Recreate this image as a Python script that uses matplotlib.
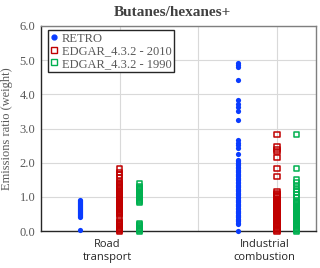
import matplotlib
matplotlib.use("Agg")
import matplotlib.pyplot as plt
from matplotlib.lines import Line2D

# ---- data ----
categories = ["Road\ntransport", "Industrial\ncombustion"]
series_names = ["RETRO", "EDGAR_4.3.2 - 2010", "EDGAR_4.3.2 - 1990"]

retro_road = [0.02, 0.40, 0.43, 0.46, 0.49, 0.52, 0.55, 0.58, 0.61, 0.64, 0.67,
              0.70, 0.73, 0.76, 0.79, 0.82, 0.85, 0.88, 0.91]
edgar2010_road = [0.00, 0.03, 0.06, 0.09, 0.12, 0.15, 0.18, 0.21, 0.24, 0.27,
                  0.38, 0.49, 0.52, 0.55, 0.58, 0.61, 0.64, 0.67, 0.70, 0.73,
                  0.76, 0.79, 0.82, 0.85, 0.88, 0.91, 0.94, 0.97, 1.00, 1.03,
                  1.06, 1.09, 1.16, 1.23, 1.26, 1.29, 1.32, 1.35, 1.38, 1.44,
                  1.55, 1.64, 1.72, 1.81]
edgar1990_road = [0.00, 0.03, 0.06, 0.09, 0.12, 0.15, 0.18, 0.22, 0.84, 0.87,
                  0.90, 0.93, 0.96, 0.99, 1.02, 1.05, 1.08, 1.11, 1.14, 1.17,
                  1.20, 1.23, 1.26, 1.29, 1.39]

retro_ind = [0.01, 0.20, 0.24, 0.28, 0.32, 0.36, 0.40, 0.44, 0.48, 0.52, 0.56,
             0.60, 0.64, 0.68, 0.72, 0.76, 0.80, 0.84, 0.88, 0.92, 0.96, 1.00,
             1.04, 1.08, 1.12, 1.16, 1.20, 1.24, 1.28, 1.32, 1.36, 1.40, 1.44,
             1.48, 1.52, 1.56, 1.60, 1.64, 1.68, 1.72, 1.76, 1.80, 1.84, 1.88,
             1.92, 1.96, 2.00, 2.04, 2.08, 2.25, 2.44, 2.51, 2.58, 2.66, 3.25,
             3.51, 3.62, 3.72, 3.82, 4.41, 4.79, 4.85, 4.93]
edgar2010_ind = [0.00, 0.03, 0.06, 0.09, 0.12, 0.15, 0.18, 0.21, 0.24, 0.27,
                 0.30, 0.33, 0.36, 0.39, 0.42, 0.45, 0.48, 0.51, 0.54, 0.57,
                 0.60, 0.63, 0.66, 0.69, 0.72, 0.75, 0.78, 0.81, 0.84, 0.87,
                 0.90, 0.93, 0.96, 0.99, 1.02, 1.05, 1.08, 1.16, 1.59, 1.83,
                 2.15, 2.32, 2.39, 2.46, 2.82]
edgar1990_ind = [0.00, 0.03, 0.06, 0.09, 0.12, 0.15, 0.18, 0.21, 0.24, 0.27,
                 0.30, 0.33, 0.36, 0.39, 0.42, 0.45, 0.48, 0.51, 0.54, 0.57,
                 0.60, 0.63, 0.66, 0.69, 0.72, 0.75, 0.78, 0.81, 0.84, 0.87,
                 0.98, 1.05, 1.14, 1.22, 1.30, 1.40, 1.49, 1.83, 2.82]

yticks = [0.0, 1.0, 2.0, 3.0, 4.0, 5.0, 6.0]
ytick_labels = ["0.0", "1.0", "2.0", "3.0", "4.0", "5.0", "6.0"]

# x positions (category slots)
pos_retro = [0.5, 2.5]
pos_2010 = [1.0, 3.0]
pos_1990 = [1.25, 3.25]
cat_label_x = [0.84, 2.84]

blue = "#0A3CFF"
red = "#C00000"
green = "#00B050"
grey_txt = "#595959"

fig = plt.figure(figsize=(3.2, 2.68), dpi=100)
ax = fig.add_axes([0.128, 0.138, 0.86, 0.765])

ax.grid(True, color="#D9D9D9", lw=0.8)
ax.set_axisbelow(True)

def col(xp, vals, **kw):
    ax.scatter([xp] * len(vals), vals, clip_on=False, zorder=3, **kw)

col(pos_retro[0], retro_road, s=14, color=blue, linewidths=0)
col(pos_retro[1], retro_ind, s=14, color=blue, linewidths=0)
for xp, vals in ((pos_2010[0], edgar2010_road), (pos_2010[1], edgar2010_ind)):
    col(xp, vals, s=15, marker="s", facecolors="none", edgecolors=red, linewidths=1.1)
for xp, vals in ((pos_1990[0], edgar1990_road), (pos_1990[1], edgar1990_ind)):
    col(xp, vals, s=15, marker="s", facecolors="none", edgecolors=green, linewidths=1.1)

ax.set_xlim(0, 3.5)
ax.set_ylim(0, 6.0)
ax.set_xticks([1, 2, 3])
ax.set_xticklabels([])
ax.tick_params(axis="x", length=0)
ax.set_yticks(yticks)
ax.set_yticklabels(ytick_labels, fontfamily="Liberation Serif", fontsize=9, color=grey_txt)
ax.tick_params(axis="y", length=0, pad=4)

for xp, lab in zip(cat_label_x, categories):
    ax.text(xp, -0.22, lab, ha="center", va="top", fontsize=8,
            fontfamily="Open Sans", color="#262626", linespacing=1.3,
            transform=ax.transData)

for s in ("top", "right"):
    ax.spines[s].set_color("#7F7F7F")
    ax.spines[s].set_linewidth(1.0)
for s in ("left", "bottom"):
    ax.spines[s].set_color("#262626")
    ax.spines[s].set_linewidth(1.0)

ax.set_ylabel("Emissions ratio (weight)", fontfamily="Liberation Serif",
              fontsize=9, color=grey_txt, labelpad=5)
fig.text(0.54, 0.955, "Butanes/hexanes+", ha="center", va="center",
         fontfamily="Liberation Serif", fontweight="bold", fontsize=11,
         color="#404040")

handles = [
    Line2D([], [], ls="none", marker="o", markersize=3.5, color=blue),
    Line2D([], [], ls="none", marker="s", markersize=4.5, markerfacecolor="none",
           markeredgecolor=red, markeredgewidth=1.0),
    Line2D([], [], ls="none", marker="s", markersize=4.5, markerfacecolor="none",
           markeredgecolor=green, markeredgewidth=1.0),
]
leg = ax.legend(handles, series_names, loc="upper left",
                bbox_to_anchor=(0.025, 0.98), borderaxespad=0,
                prop={"family": "Liberation Serif", "size": 9},
                fancybox=False, framealpha=1, edgecolor="#262626",
                handlelength=0.6, handletextpad=0.3, labelspacing=0.05,
                borderpad=0.2, labelcolor=grey_txt)
leg.get_frame().set_linewidth(1.0)

fig.savefig("out.png", dpi=100)
